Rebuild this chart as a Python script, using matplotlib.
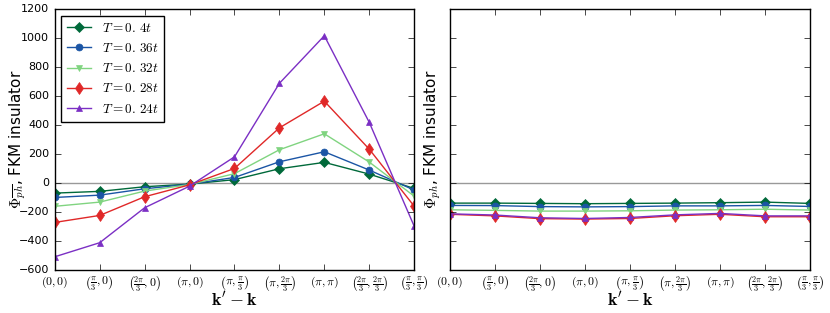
import numpy as np
import matplotlib
matplotlib.use("Agg")
import matplotlib.pyplot as plt

plt.style.use("classic")
plt.rcParams["mathtext.fontset"] = "cm"
plt.rcParams["font.family"] = "DejaVu Sans"

# x categories (k' - k path)
k_labels = [r"$(0,0)$", r"$\left(\frac{\pi}{3},0\right)$", r"$\left(\frac{2\pi}{3},0\right)$",
            r"$(\pi,0)$", r"$\left(\pi,\frac{\pi}{3}\right)$", r"$\left(\pi,\frac{2\pi}{3}\right)$",
            r"$(\pi,\pi)$", r"$\left(\frac{2\pi}{3},\frac{2\pi}{3}\right)$",
            r"$\left(\frac{\pi}{3},\frac{\pi}{3}\right)$"]

temps = [r"$T=0.\,4t$", r"$T=0.\,36t$", r"$T=0.\,32t$", r"$T=0.\,28t$", r"$T=0.\,24t$"]

# left panel: Phi_{ph-bar}
phi_bar_04 = [-69, -57, -25, -7, 24, 99, 143, 62, -37]
phi_bar_036 = [-99, -83, -39, -8, 39, 147, 216, 90, -48]
phi_bar_032 = [-160, -131, -55, -10, 65, 230, 340, 145, -90]
phi_bar_028 = [-271, -223, -94, -12, 101, 381, 565, 234, -159]
phi_bar_024 = [-508, -411, -170, -21, 181, 688, 1016, 419, -297]

# right panel: Phi_{ph}
phi_04 = [-138, -138, -140, -142, -140, -138, -135, -131, -140]
phi_036 = [-154, -155, -162, -164, -162, -157, -157, -154, -161]
phi_032 = [-184, -188, -193, -193, -191, -186, -184, -180, -186]
phi_028 = [-215, -226, -245, -248, -244, -225, -215, -232, -232]
phi_024 = [-212, -220, -239, -244, -237, -219, -209, -226, -226]

colors = ["#00693a", "#1b55a5", "#80d480", "#e02828", "#7b2fc4"]
markers = ["D", "o", "v", "d", "^"]
msizes = [5, 5, 5, 6, 5]

x = np.arange(len(k_labels))

fig = plt.figure(figsize=(8.3, 3.13), dpi=100)
ax1 = fig.add_axes([0.066, 0.137, 0.433, 0.834])
ax2 = fig.add_axes([0.542, 0.137, 0.434, 0.834], sharey=ax1)

left = [phi_bar_04, phi_bar_036, phi_bar_032, phi_bar_028, phi_bar_024]
right = [phi_04, phi_036, phi_032, phi_028, phi_024]

for ax, series in [(ax1, left), (ax2, right)]:
    ax.axhline(0, color="#999999", lw=1, zorder=1)
    for vals, c, m, ms, lab in zip(series, colors, markers, msizes, temps):
        ax.plot(x, vals, color=c, marker=m, markersize=ms, markeredgecolor=c,
                lw=1, label=lab)
    ax.set_xlim(0, len(k_labels) - 1)
    ax.set_xticks(x)
    ax.set_xticklabels(k_labels, fontsize=8.5)
    ax.set_xlabel(r"$\mathbf{k}'-\mathbf{k}$", fontsize=13)
    ax.xaxis.set_label_coords(0.5, -0.08)
    ax.tick_params(axis="y", labelsize=8)
    ax.tick_params(axis="x", pad=3)

ax1.set_ylim(-600, 1200)
ax1.set_yticks(np.arange(-600, 1201, 200))
ax1.set_ylabel(r"$\Phi_{\overline{ph}}$, FKM insulator", fontsize=11)
ax1.yaxis.set_label_coords(-0.075, 0.5)
ax2.set_ylabel(r"$\Phi_{ph}$, FKM insulator", fontsize=11)
ax2.yaxis.set_label_coords(-0.02, 0.5)
plt.setp(ax2.get_yticklabels(), visible=False)

leg = ax1.legend(loc="upper left", fontsize=9.5, numpoints=1, handlelength=1.8,
                 handletextpad=0.8, borderpad=0.45, labelspacing=0.55, fancybox=False)
leg.get_frame().set_edgecolor("black")

fig.savefig("out.png", dpi=100)
